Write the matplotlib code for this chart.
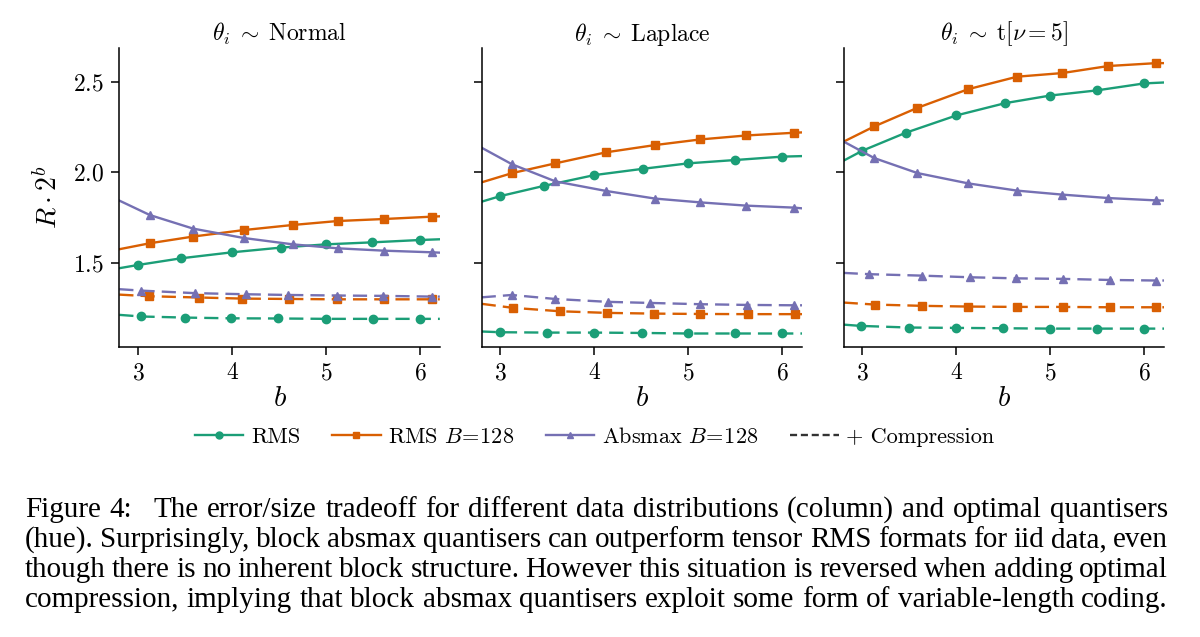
import matplotlib
matplotlib.use("Agg")
import matplotlib.pyplot as plt
from matplotlib.lines import Line2D

plt.rcParams['font.family'] = 'serif'
plt.rcParams['font.serif'] = ['cmr10', 'DejaVu Serif']
plt.rcParams['mathtext.fontset'] = 'cm'
plt.rcParams['axes.formatter.use_mathtext'] = True

# ---- data; first/last points sit on the axis edges ----
titles = [r"$\theta_i \;\sim\; \mathrm{Normal}$", r"$\theta_i \;\sim\; \mathrm{Laplace}$",
          r"$\theta_i \;\sim\; \mathrm{t}[\nu = 5]$"]
labels = ["RMS", r"RMS $B\!=\!128$", r"Absmax $B\!=\!128$", "+ Compression"]

rms_x = [2.8, 3.0, 3.46, 4.0, 4.52, 5.0, 5.49, 6.0, 6.21]
block_x = [2.8, 3.125, 3.585, 4.125, 4.645, 5.125, 5.615, 6.125, 6.21]

# Normal
normal_rms = [1.469, 1.487, 1.524, 1.557, 1.583, 1.601, 1.612, 1.625, 1.629]
normal_rms128 = [1.574, 1.607, 1.644, 1.680, 1.708, 1.730, 1.741, 1.754, 1.756]
normal_absmax = [1.843, 1.763, 1.688, 1.636, 1.601, 1.579, 1.566, 1.557, 1.555]
normal_rms_c_x = [2.8, 3.035, 3.50, 3.99, 4.49, 5.0, 5.50, 6.0, 6.21]
normal_rms_c = [1.211, 1.202, 1.196, 1.192, 1.191, 1.189, 1.189, 1.189, 1.189]
normal_rms128_c_x = [2.8, 3.12, 3.65, 4.11, 4.61, 5.12, 5.62, 6.13, 6.21]
normal_rms128_c = [1.323, 1.314, 1.307, 1.301, 1.299, 1.297, 1.297, 1.297, 1.297]
normal_absmax_c_x = [2.8, 3.035, 3.61, 4.15, 4.60, 5.12, 5.61, 6.13, 6.21]
normal_absmax_c = [1.353, 1.345, 1.331, 1.325, 1.321, 1.318, 1.316, 1.312, 1.312]

# Laplace
laplace_rms = [1.837, 1.868, 1.924, 1.984, 2.019, 2.049, 2.067, 2.086, 2.089]
laplace_rms128 = [1.944, 1.995, 2.049, 2.110, 2.150, 2.181, 2.203, 2.218, 2.220]
laplace_absmax = [2.135, 2.043, 1.949, 1.896, 1.854, 1.833, 1.815, 1.804, 1.800]
laplace_rms_c_x = [2.8, 3.0, 3.50, 3.99, 4.51, 5.0, 5.49, 6.0, 6.21]
laplace_rms_c = [1.119, 1.115, 1.113, 1.113, 1.111, 1.108, 1.108, 1.108, 1.108]
laplace_rms128_c_x = [2.8, 3.13, 3.63, 4.13, 4.63, 5.12, 5.63, 6.13, 6.21]
laplace_rms128_c = [1.272, 1.250, 1.231, 1.222, 1.218, 1.216, 1.215, 1.215, 1.215]
laplace_absmax_c_x = [2.8, 3.12, 3.58, 4.14, 4.59, 5.12, 5.62, 6.12, 6.21]
laplace_absmax_c = [1.308, 1.321, 1.299, 1.283, 1.277, 1.270, 1.266, 1.264, 1.264]

# Student t, nu = 5
t_rms = [2.064, 2.119, 2.218, 2.314, 2.382, 2.424, 2.452, 2.491, 2.496]
t_rms128 = [2.169, 2.253, 2.356, 2.459, 2.528, 2.548, 2.587, 2.603, 2.603]
t_absmax = [2.169, 2.078, 1.995, 1.938, 1.898, 1.876, 1.857, 1.844, 1.843]
t_rms_c_x = [2.8, 2.98, 3.49, 4.0, 4.50, 5.0, 5.50, 6.0, 6.21]
t_rms_c = [1.157, 1.150, 1.141, 1.139, 1.137, 1.135, 1.135, 1.135, 1.135]
t_rms128_c_x = [2.8, 3.13, 3.63, 4.12, 4.64, 5.13, 5.63, 6.12, 6.21]
t_rms128_c = [1.279, 1.268, 1.261, 1.257, 1.255, 1.255, 1.253, 1.253, 1.253]
t_absmax_c_x = [2.8, 3.07, 3.63, 4.14, 4.63, 5.13, 5.63, 6.12, 6.21]
t_absmax_c = [1.443, 1.436, 1.428, 1.419, 1.413, 1.410, 1.404, 1.401, 1.401]

caption = [
    "Figure 4:|The error/size tradeoff for different data distributions (column) and optimal quantisers",
    "(hue). Surprisingly, block absmax quantisers can outperform tensor RMS formats for iid data, even",
    "though there is no inherent block structure. However this situation is reversed when adding optimal",
    "compression, implying that block absmax quantisers exploit some form of variable-length coding.",
]

GREEN, ORANGE, PURPLE = '#1b9e77', '#d95f02', '#7570b3'

panels = [
    [(rms_x, normal_rms, normal_rms_c_x, normal_rms_c),
     (block_x, normal_rms128, normal_rms128_c_x, normal_rms128_c),
     (block_x, normal_absmax, normal_absmax_c_x, normal_absmax_c)],
    [(rms_x, laplace_rms, laplace_rms_c_x, laplace_rms_c),
     (block_x, laplace_rms128, laplace_rms128_c_x, laplace_rms128_c),
     (block_x, laplace_absmax, laplace_absmax_c_x, laplace_absmax_c)],
    [(rms_x, t_rms, t_rms_c_x, t_rms_c),
     (block_x, t_rms128, t_rms128_c_x, t_rms128_c),
     (block_x, t_absmax, t_absmax_c_x, t_absmax_c)],
]
styles = [(GREEN, 'o'), (ORANGE, 's'), (PURPLE, '^')]

W, H = 1200, 637
fig = plt.figure(figsize=(W / 100, H / 100), dpi=100)

lefts = [119.3, 481.7, 843.7]
for i, left in enumerate(lefts):
    ax = fig.add_axes([left / W, 1 - 346.7 / H, 320.5 / W, (346.7 - 48.3) / H])
    for (sx, sy, cx, cy), (col, mk) in zip(panels[i], styles):
        ax.plot(sx, sy, color=col, marker=mk, markersize=6, lw=1.7,
                markevery=slice(1, -1))
        ax.plot(cx, cy, color=col, marker=mk, markersize=6, lw=1.7,
                dashes=(6, 3), markevery=slice(1, -1))
    ax.set_xlim(2.8, 6.21)
    ax.set_ylim(1.035, 2.685)
    ax.set_xticks([3, 4, 5, 6])
    ax.set_yticks([1.5, 2.0, 2.5])
    ax.spines['top'].set_visible(False)
    ax.spines['right'].set_visible(False)
    for s in ['left', 'bottom']:
        ax.spines[s].set_linewidth(1.1)
    ax.tick_params(direction='out', length=6, width=1.1, labelsize=17, pad=5)
    ax.set_title(titles[i], fontsize=17, pad=5)
    ax.set_xlabel(r"$b$", fontsize=21, labelpad=1)
    if i == 0:
        ax.set_ylabel(r"$R\cdot 2^b$", fontsize=20, labelpad=7)
    else:
        ax.set_yticklabels([])

handles = [Line2D([], [], color=c, marker=m, markersize=5, lw=1.7) for c, m in styles]
handles.append(Line2D([], [], color='#333333', lw=1.7, dashes=(3, 1.6)))
fig.legend(handles, labels, loc='center', bbox_to_anchor=(594.5 / W, 1 - 436.7 / H),
           ncol=4, frameon=False, fontsize=16, handlelength=2.2, handletextpad=0.35,
           columnspacing=1.4)

# caption, justified between x0 and x1
renderer = fig.canvas.get_renderer()
x0, x1 = 25, 1168
baselines = [517, 547, 577, 607]
for line, yb in zip(caption, baselines):
    words = []
    weights = []
    for k, part in enumerate(line.split("|")):
        ws = part.split(" ")
        if k > 0:
            weights[-1] = 2.6
        words += ws
        weights += [1.0] * len(ws)
    weights = weights[:-1]
    texts = [fig.text(0, 1 - yb / H, w, fontsize=21, family='Liberation Serif',
                      va='baseline', ha='left') for w in words]
    widths = [t.get_window_extent(renderer).width for t in texts]
    gap = (x1 - x0 - sum(widths)) / sum(weights)
    x = x0
    for j, t in enumerate(texts):
        t.set_x(x / W)
        x += widths[j]
        if j < len(weights):
            x += gap * weights[j]

fig.savefig("out.png", dpi=100)
